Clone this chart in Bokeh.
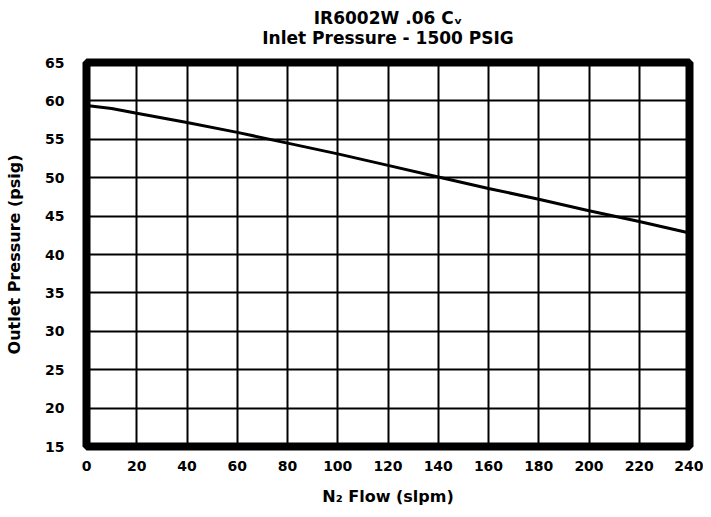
from bokeh.plotting import figure
from bokeh.models import Range1d, FixedTicker, Title
from bokeh.embed import file_html
from bokeh.resources import INLINE

# Data
flow = [0, 10, 20, 40, 60, 80, 100, 120, 140, 160, 180, 200, 220, 240]
outlet = [59.4, 59.0, 58.4, 57.2, 55.9, 54.5, 53.1, 51.6, 50.1, 48.6, 47.2, 45.7, 44.3, 42.8]
x_ticks = [0, 20, 40, 60, 80, 100, 120, 140, 160, 180, 200, 220, 240]
y_ticks = [15, 20, 25, 30, 35, 40, 45, 50, 55, 60, 65]

title_1 = "IR6002W .06 C\u1d65"
title_2 = "Inlet Pressure - 1500 PSIG"
x_label = "N\u2082 Flow (slpm)"
y_label = "Outlet Pressure (psig)"

FONT = "DejaVu Sans"

p = figure(frame_width=603, frame_height=384, output_backend="svg", toolbar_location=None,
           x_range=Range1d(0, 240), y_range=Range1d(15, 65),
           min_border_left=86, min_border_right=14, min_border_top=62, min_border_bottom=40)

p.add_layout(Title(text=title_2, align="center", text_font=FONT, text_font_size="17px",
                   text_line_height=0.9, text_font_style="bold",
                   text_color="black", standoff=30), "above")
p.add_layout(Title(text=title_1, align="center", text_font=FONT, text_font_size="17px",
                   text_line_height=0.9, text_font_style="bold",
                   text_color="black", standoff=-35), "above")

p.line(flow, outlet, line_color="black", line_width=3)

p.outline_line_color = "black"
p.outline_line_width = 8
p.outline_line_alpha = 1.0

for ax in (p.xaxis[0], p.yaxis[0]):
    ax.axis_line_color = None
    ax.major_tick_line_color = None
    ax.minor_tick_line_color = None
    ax.major_tick_out = 0
    ax.major_tick_in = 0
    ax.major_label_text_font = FONT
    ax.major_label_text_font_style = "bold"
    ax.major_label_text_font_size = "14px"
    ax.major_label_text_color = "black"
    ax.axis_label_text_font = FONT
    ax.axis_label_text_font_style = "bold"
    ax.axis_label_text_font_size = "16px"
    ax.axis_label_text_color = "black"

p.xaxis.ticker = FixedTicker(ticks=x_ticks)
p.yaxis.ticker = FixedTicker(ticks=y_ticks)
p.xaxis.axis_label = x_label
p.yaxis.axis_label = y_label
p.xaxis.major_label_standoff = 14
p.yaxis.major_label_standoff = 22
p.xaxis.axis_label_standoff = 13
p.yaxis.axis_label_standoff = 18

p.xgrid.ticker = FixedTicker(ticks=x_ticks)
p.ygrid.ticker = FixedTicker(ticks=y_ticks)
for g in (p.xgrid[0], p.ygrid[0]):
    g.grid_line_color = "black"
    g.grid_line_width = 2
    g.grid_line_alpha = 1.0

p.background_fill_color = "white"
p.border_fill_color = "white"

open("out.html", "w").write(file_html(p, INLINE))
